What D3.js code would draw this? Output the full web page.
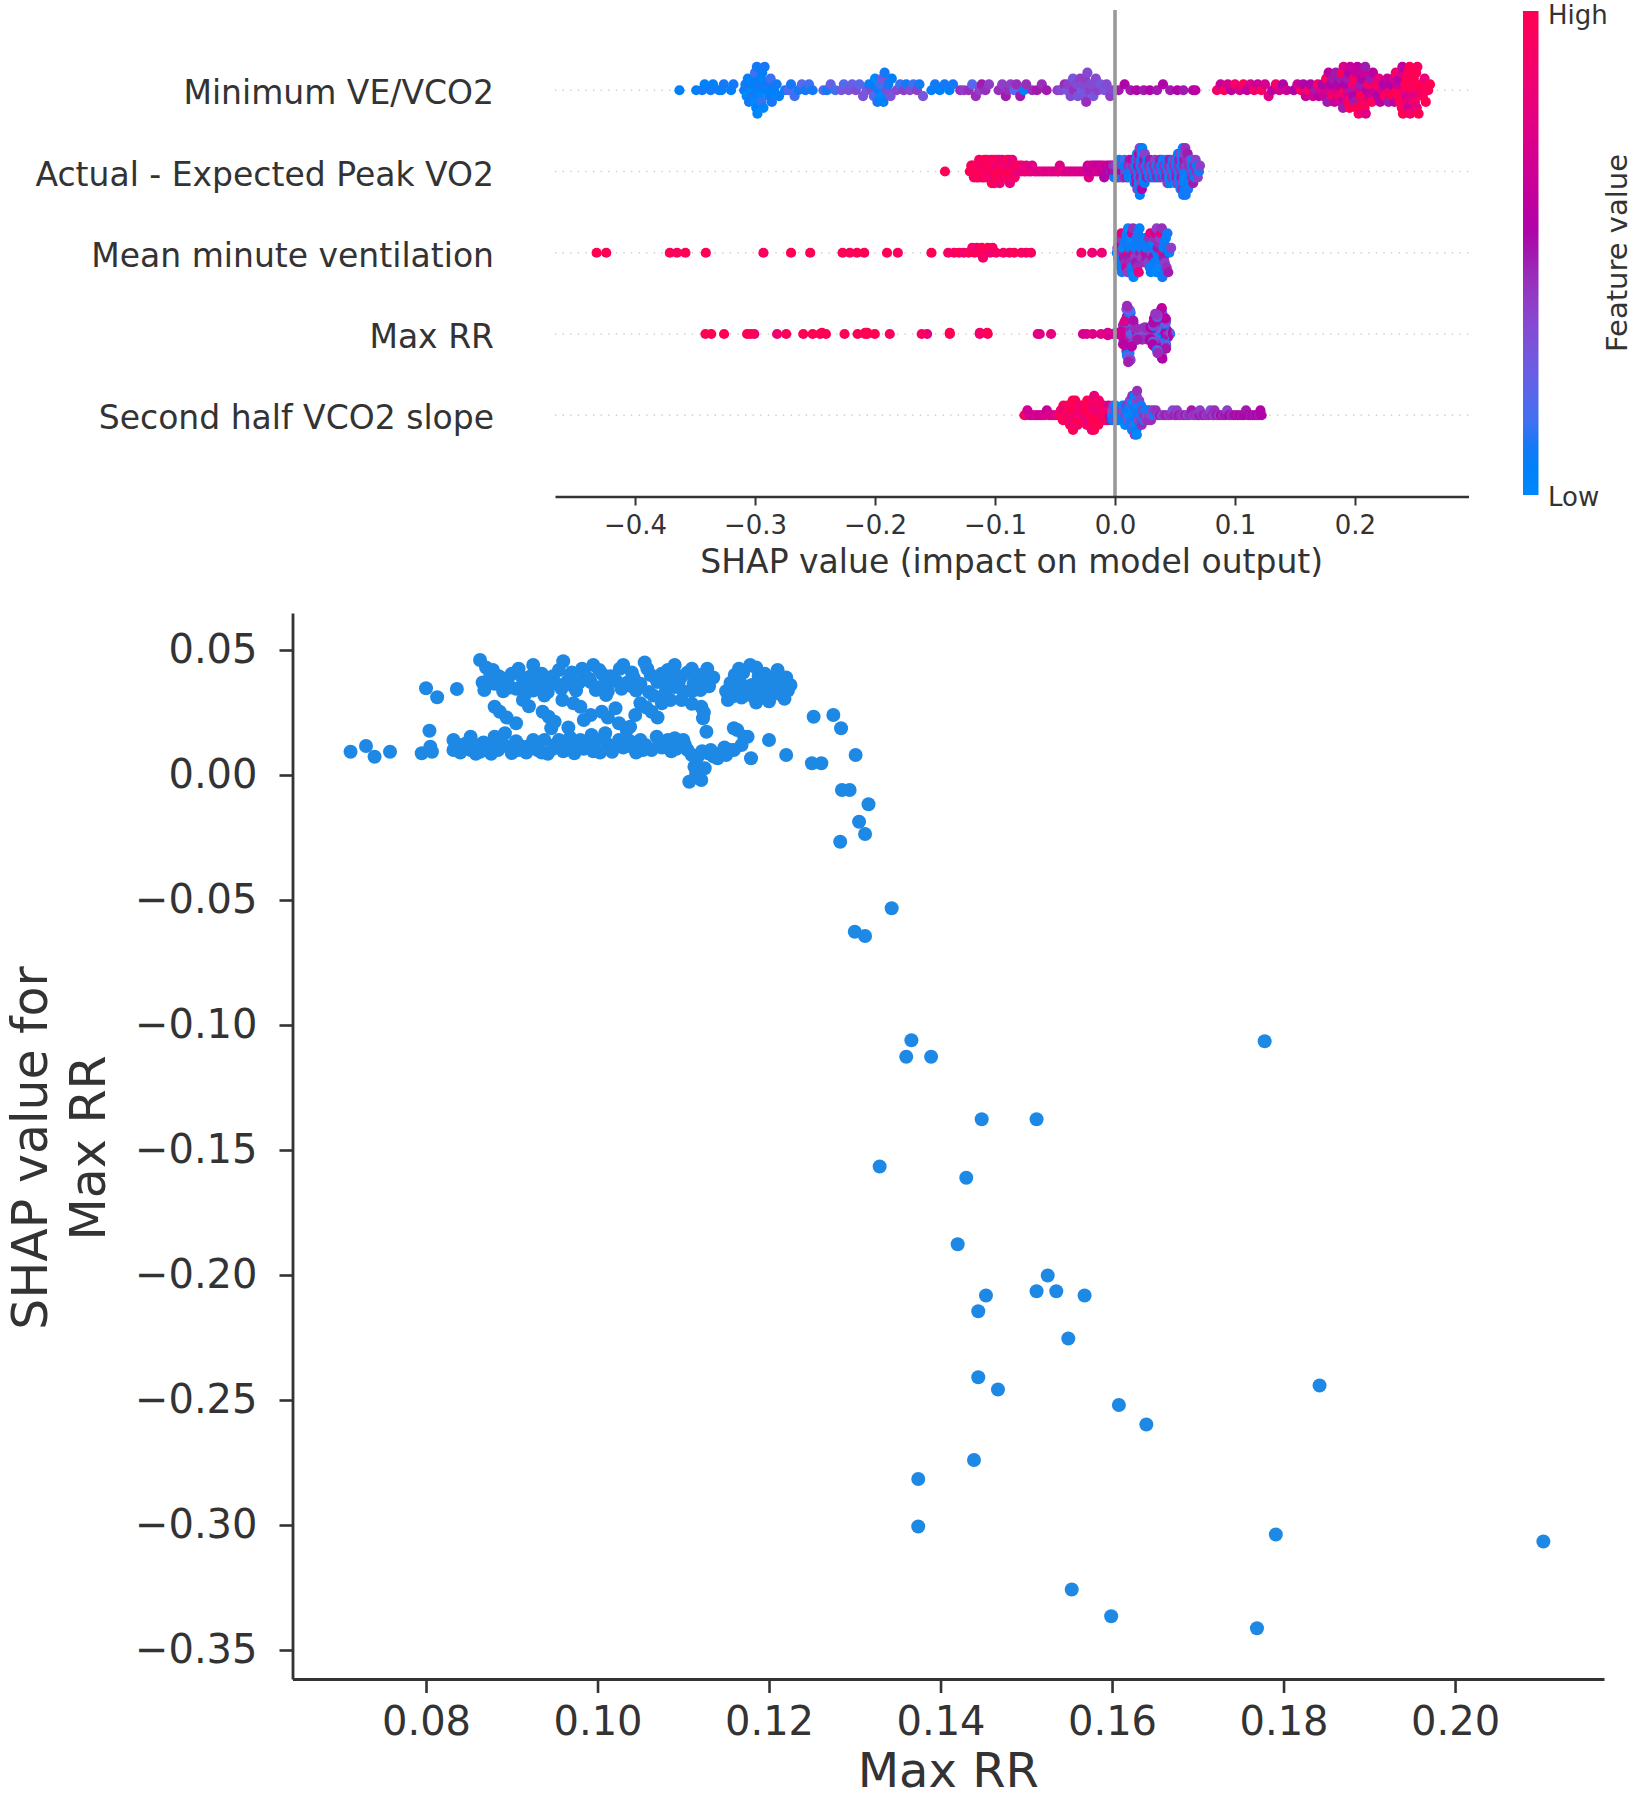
<!DOCTYPE html>
<html><head><meta charset="utf-8">
<script src="https://cdn.jsdelivr.net/npm/d3@7"></script>
<style>
html,body{margin:0;padding:0;background:#fff;}
svg{display:block;}
text{font-family:"DejaVu Sans",sans-serif;}
</style></head><body>
<svg id="chart" width="1637" height="1800"></svg>
<script>
// ---------- DATA ----------
// feature names, bottom row first (index = row position)
const featureNames = ["Second half VCO2 slope","Max RR","Mean minute ventilation","Actual - Expected Peak VO2","Minimum VE/VCO2"];
const summaryTicks = [-0.4,-0.3,-0.2,-0.1,0.0,0.1,0.2];
const depXTicks = [0.08,0.10,0.12,0.14,0.16,0.18,0.20];
const depYTicks = [0.05,0.00,-0.05,-0.10,-0.15,-0.20,-0.25,-0.30,-0.35];
const colorbarLabels = ["Low","High"];

// [SHAP value, normalized feature value 0..1]
const minVEVCO2 = [
[-.363,.05],
[-.349,.05],[-.344,.1],[-.342,.05],[-.337,.1],[-.335,.05],[-.330,.1],[-.328,.05],[-.326,.1],[-.320,.05],[-.318,.1],
[-.309,.05],[-.308,.1],[-.307,0],[-.306,.05],[-.305,.1],
[-.303,0],[-.3025,.05],[-.302,.1],[-.301,.05],[-.3005,0],[-.300,.15],[-.299,.05],[-.2985,.1],[-.298,0],
[-.297,.05],[-.2965,.1],[-.296,0],[-.295,.05],[-.2945,.15],[-.294,.05],[-.293,0],[-.292,.1],
[-.290,.05],[-.289,.1],[-.288,.05],[-.287,.15],[-.286,.1],
[-.284,.05],[-.282,.1],[-.280,.05],
[-.275,.1],[-.272,.2],[-.270,.1],[-.267,.15],[-.264,.1],[-.261,.2],[-.258,.1],[-.255,.15],[-.252,.1],
[-.243,.2],[-.240,.1],[-.237,.25],[-.233,.15],
[-.228,.3],[-.226,.2],[-.222,.3],[-.219,.25],[-.216,.35],[-.213,.2],[-.210,.3],
[-.207,.3],[-.205,.1],
[-.203,.35],[-.202,.05],[-.201,.2],[-.200,0],[-.198,.1],
[-.1965,.05],[-.196,.15],[-.195,0],[-.194,.3],[-.193,.05],[-.192,.1],
[-.190,.35],[-.189,.1],[-.187,.3],[-.186,.05],
[-.182,.35],[-.179,.15],[-.176,.4],[-.174,.1],[-.171,.35],[-.168,.15],[-.165,.4],[-.163,.1],[-.160,.3],
[-.153,.05],[-.150,.1],[-.146,.05],[-.142,.1],[-.138,.05],[-.135,.1],
[-.129,.45],[-.126,.4],[-.122,.45],[-.119,.2],[-.116,.45],[-.113,.4],[-.111,.5],[-.108,.45],[-.105,.4],
[-.097,.45],[-.094,.4],[-.091,.5],[-.089,.45],[-.087,.4],[-.084,.2],[-.082,.45],[-.079,.5],[-.076,.05],[-.074,.45],
[-.069,.45],[-.065,.5],[-.061,.45],[-.057,.5],
[-.048,.4],[-.045,.35],
[-.042,.45],[-.040,.3],
[-.039,.4],[-.037,.35],[-.035,.3],
[-.034,.45],[-.032,.35],[-.031,.3],[-.029,.4],
[-.0275,.25],[-.027,.35],[-.026,.3],[-.025,.4],[-.024,.45],[-.023,.35],
[-.021,.4],[-.020,.35],[-.018,.3],[-.016,.35],
[-.014,.4],[-.012,.3],
[-.009,.3],[-.007,.35],
[-.004,.4],[-.002,.35],
[.003,.5],[.008,.55],[.013,.5],[.018,.55],[.024,.5],[.029,.55],[.035,.5],[.040,.55],[.046,.5],[.052,.55],[.057,.5],
[.065,.55],[.067,.6],
[.085,.9],[.088,.65],[.091,.95],[.094,.7],[.097,.6],[.100,.9],[.104,.7],[.107,.95],[.110,.6],[.113,.7],[.116,.9],[.119,.65],[.122,.95],[.125,.7],[.128,.75],[.131,.6],[.134,.9],[.137,.7],[.140,.55],[.143,.65],
[.149,.55],[.152,.65],
[.155,.9],[.157,.55],[.159,.65],
[.161,.95],[.163,.55],[.165,.7],
[.167,.5],[.169,.9],[.170,.6],[.172,.75],
[.173,.55],[.174,.65],[.176,.95],[.177,.5],[.178,.6],
[.179,.75],[.180,.55],[.181,.9],[.182,.5],[.183,.65],[.184,.5],
[.185,.7],[.186,.55],[.187,.9],[.188,.5],[.189,.65],[.189,1],[.190,.5],[.1905,.75],
[.1915,.95],[.192,.55],[.193,.7],[.1935,.5],[.194,.9],[.195,.55],[.1955,1],[.196,.65],[.197,.5],
[.198,.8],[.1985,.55],[.199,.95],[.200,.5],[.201,.65],[.2015,1],[.202,.6],[.203,.9],
[.204,.7],[.2045,.5],[.205,1],[.206,.55],[.2065,.9],[.207,.65],[.208,1],[.2085,.5],[.209,.75],
[.210,.55],[.211,.9],[.212,.65],[.213,.5],[.214,.95],[.215,.6],
[.217,.65],[.218,.9],[.219,.55],[.220,.8],[.221,.6],
[.223,.75],[.224,.55],[.225,.95],[.227,.65],[.228,.5],
[.229,.9],[.230,.55],[.231,1],[.232,.7],[.233,.6],[.234,.9],
[.235,1],[.2355,.65],[.236,.95],[.237,.55],[.2375,1],[.238,.75],[.239,.95],[.2395,.6],[.240,1],
[.2415,.9],[.242,1],[.2425,.7],[.243,1],[.2435,.8],[.244,.95],[.245,.65],[.2455,1],[.246,.9],[.247,1],
[.248,.95],[.2485,.75],[.249,1],[.250,.9],[.251,1],[.2515,.8],[.252,.95],[.253,1],
[.254,.9],[.255,1],[.2565,.95],[.258,.8],[.259,1],
[.261,.95],[.2625,1]
];

const peakVO2Diff = [
[-.1417,1],
[-.1210,1],[-.1198,.95],
[-.1190,1],[-.1185,.9],[-.1176,1],
[-.1168,.95],[-.1160,1],[-.1154,.85],
[-.1148,1],[-.1143,.95],[-.1137,1],[-.1132,.9],
[-.1127,1],[-.1119,.85],[-.1112,1],
[-.1106,.95],[-.1101,1],[-.1095,.9],[-.1089,1],
[-.1085,1],[-.1080,.85],[-.1075,.95],[-.1068,1],
[-.1064,.9],[-.1058,1],[-.1050,.8],
[-.1044,1],[-.1040,.95],[-.1036,1],[-.1031,.85],[-.1026,1],
[-.1023,.9],[-.1019,1],[-.1014,.8],[-.1008,1],[-.1004,.95],
[-.0999,1],[-.0995,.85],[-.0989,1],[-.0983,.9],
[-.0980,1],[-.0976,.8],[-.0971,.95],[-.0966,1],[-.0961,.85],
[-.0958,1],[-.0953,.9],[-.0946,1],[-.0941,.8],
[-.0937,.95],[-.0931,1],[-.0922,.85],
[-.0915,1],[-.0911,.8],[-.0905,.95],[-.0898,.9],
[-.0894,1],[-.0890,.85],[-.0885,.9],[-.0880,1],[-.0876,.8],
[-.0872,1],[-.0867,.85],[-.0861,.95],[-.0856,.8],
[-.0851,1],[-.0844,.85],[-.0836,.9],
[-.0828,.85],[-.0820,1],
[-.0808,.85],[-.0796,.9],
[-.0786,.8],[-.0775,.85],
[-.0760,.8],
[-.0745,.85],[-.0738,.8],
[-.0718,.85],
[-.0700,.8],[-.0690,.75],
[-.0668,.8],[-.0648,.75],[-.0627,.8],[-.0605,.75],[-.0586,.8],[-.0563,.7],[-.0541,.75],[-.0522,.8],[-.0500,.75],[-.0478,.7],[-.0470,.8],[-.0460,.75],[-.0440,.8],[-.0418,.75],[-.0397,.7],[-.0376,.75],[-.0355,.7],[-.0333,.75],[-.0312,.7],[-.0291,.75],[-.0270,.7],[-.0250,.75],
[-.0235,.7],[-.0228,.65],[-.0218,.75],[-.0210,.6],[-.0198,.7],[-.0190,.65],[-.0178,.7],[-.0170,.6],[-.0158,.65],[-.0150,.75],[-.0138,.6],[-.0130,.7],[-.0118,.65],[-.0110,.6],[-.0098,.7],[-.0090,.55],[-.0078,.65],[-.0070,.6],[-.0058,.55],[-.0050,.65],[-.0038,.5],[-.0030,.6],
[-.0022,.55],[-.0015,.45],[-.0008,.1],
[.0000,.5],[.0006,.4],[.0014,.05],
[.0020,.5],[.0025,.1],[.0031,.45],[.0036,.05],
[.0042,.5],[.0049,.4],[.0057,.1],
[.0062,.55],[.0068,.05],[.0073,.45],[.0080,.15],
[.0084,.4],[.0091,.05],[.0099,.5],
[.0104,.1],[.0109,.45],[.0115,0],[.0122,.5],
[.0125,.05],[.0131,.4],[.0137,.1],[.0143,.6],
[.0147,.1],[.0151,.45],[.0155,0],[.0160,.5],[.0165,.05],
[.0168,.45],[.0171,.05],[.0174,.5],[.0177,.1],[.0180,.65],[.0183,0],[.0186,.4],
[.0189,.05],[.0191,.5],[.0193,.1],[.0195,.45],[.0198,0],[.0200,.6],[.0202,.1],[.0205,.4],[.0207,.05],
[.0210,.45],[.0212,.05],[.0215,.5],[.0217,.1],[.0219,.4],[.0222,0],[.0224,.55],[.0227,.05],
[.0231,.1],[.0234,.45],[.0238,0],[.0242,.5],[.0246,.05],[.0249,.4],
[.0254,.45],[.0259,.1],[.0265,.5],[.0270,.05],
[.0275,.05],[.0280,.45],[.0286,.1],[.0291,.5],
[.0296,.4],[.0302,.1],[.0309,.45],
[.0316,.1],[.0321,.45],[.0328,.05],[.0334,.4],
[.0339,.45],[.0345,.1],[.0352,.5],
[.0359,.1],[.0364,.45],[.0371,.05],[.0376,.5],
[.0380,.4],[.0385,.05],[.0391,.45],[.0397,.1],
[.0402,.05],[.0409,.45],[.0416,.1],
[.0423,.45],[.0426,.05],[.0429,.5],[.0433,.1],[.0438,.4],
[.0444,.1],[.0447,.45],[.0451,0],[.0455,.5],[.0460,.05],
[.0465,.4],[.0470,.1],[.0476,.45],[.0482,.05],
[.0486,.05],[.0489,.45],[.0492,.1],[.0497,.4],[.0503,0],
[.0507,.45],[.0510,.05],[.0513,.5],[.0517,.1],[.0521,.4],[.0525,.05],
[.0529,.1],[.0531,.45],[.0533,0],[.0536,.5],[.0539,.05],[.0542,.4],[.0546,.1],
[.0550,.45],[.0552,.05],[.0554,.5],[.0556,.1],[.0558,.4],[.0560,0],[.0562,.45],[.0565,.05],[.0568,.1],
[.0571,.05],[.0573,.45],[.0575,.1],[.0577,.5],[.0579,0],[.0581,.4],[.0583,.05],[.0586,.45],[.0589,.1],
[.0592,.1],[.0594,.4],[.0597,0],[.0600,.45],[.0603,.05],[.0606,.5],[.0609,.1],
[.0614,.05],[.0617,.45],[.0620,.1],[.0624,.4],[.0630,0],
[.0635,.4],[.0638,.1],[.0642,.45],[.0646,0],[.0651,.5],
[.0656,.1],[.0660,.45],[.0665,.05],[.0672,.4],
[.0677,.45],[.0683,.05],[.0690,.4],
[.0700,.1],[.0708,.4]
];

const meanMinuteVent = [
[-.432,1],[-.424,1],[-.371,1],[-.365,.95],[-.358,1],[-.341,1],[-.293,.95],[-.270,1],[-.254,1],[-.227,1],[-.221,.95],[-.215,1],[-.209,1],[-.190,1],[-.181,.95],[-.153,1],
[-.139,.95],[-.134,.9],[-.130,1],[-.126,.85],[-.122,.95],[-.119,.9],[-.117,1],[-.115,.85],[-.113,.95],[-.111,1],[-.110,.9],[-.108,.95],[-.106,1],[-.104,.85],[-.102,.95],[-.099,.9],
[-.093,.95],[-.088,.9],[-.084,1],[-.078,.95],[-.074,.9],[-.070,.95],
[-.028,.9],[-.019,.85],[-.011,.85],
[.0015,.05],[.0020,.45],[.0026,.1],[.0031,.7],[.0036,.05],
[.0042,.4],[.0048,.05],[.0053,.8],[.0058,.1],[.0063,.45],[.0068,0],[.0074,.5],[.0080,.1],
[.0088,.45],[.0092,.05],[.0096,.75],[.0100,.1],[.0104,.4],[.0108,0],[.0112,.85],[.0116,.05],[.0120,.5],[.0124,.1],[.0128,.45],[.0132,0],
[.0138,.1],[.0142,.7],[.0146,.05],[.0150,.45],[.0154,0],[.0158,.8],[.0162,.1],[.0166,.4],[.0170,.05],[.0174,.5],[.0178,.1],
[.0186,.45],[.0192,.1],[.0198,.8],[.0204,.05],[.0210,.5],[.0216,.1],[.0222,.4],
[.0240,.1],[.0245,.45],[.0250,.05],[.0255,.75],[.0260,.1],[.0265,.5],[.0270,.05],[.0276,.4],
[.0284,.45],[.0289,.1],[.0294,.8],[.0299,.05],[.0304,.4],[.0309,.1],[.0314,.5],[.0319,0],
[.0327,.05],[.0331,.45],[.0335,.1],[.0339,.7],[.0343,0],[.0347,.4],[.0351,.1],[.0355,.5],[.0359,.05],[.0363,.45],
[.0371,.1],[.0375,.4],[.0379,0],[.0383,.75],[.0387,.05],[.0391,.45],[.0395,.1],[.0399,.85],[.0403,.05],[.0407,.5],[.0411,.1],[.0415,.4],
[.0424,.05],[.0430,.45],[.0437,.1],[.0444,.5],[.0452,.05],[.0468,.4]
];

const secondHalfVCO2 = [
[-.0755,1],[-.0745,.95],[-.0730,.7],[-.0712,.65],[-.0694,.7],[-.0676,.65],[-.0658,.75],[-.0640,.7],[-.0622,.65],[-.0604,.7],[-.0586,.75],[-.0568,.65],[-.0550,.7],[-.0532,.75],[-.0514,.7],[-.0496,.8],[-.0478,.75],[-.0462,.85],
[-.0452,.9],[-.0448,1],[-.0438,.85],[-.0434,1],[-.0430,.9],[-.0420,1],[-.0416,.8],[-.0412,1],
[-.0404,.9],[-.0401,1],[-.0398,.85],[-.0395,1],[-.0386,1],[-.0383,.8],[-.0380,1],[-.0377,.9],[-.0374,1],
[-.0368,.85],[-.0365,1],[-.0362,.9],[-.0359,1],[-.0356,.8],[-.0353,1],
[-.0350,1],[-.0347,.9],[-.0344,1],[-.0341,.85],[-.0338,1],[-.0335,.9],
[-.0331,1],[-.0328,.8],[-.0325,1],[-.0322,.9],[-.0319,1],
[-.0313,.9],[-.0310,1],[-.0307,.85],[-.0298,1],[-.0294,.9],[-.0290,.8],
[-.0280,.9],[-.0276,1],[-.0272,.85],
[-.0262,1],[-.0258,.9],[-.0254,1],[-.0250,.8],
[-.0244,1],[-.0241,.85],[-.0238,1],[-.0235,.9],[-.0232,1],
[-.0226,.9],[-.0223,1],[-.0220,.8],[-.0217,1],[-.0214,.9],[-.0211,1],
[-.0208,1],[-.0205,.85],[-.0202,1],[-.0199,.9],[-.0196,1],[-.0193,.8],[-.0191,1],
[-.0188,.9],[-.0185,1],[-.0183,.85],[-.0180,1],[-.0177,.9],[-.0175,1],[-.0173,.8],
[-.0170,1],[-.0167,.9],[-.0164,1],[-.0161,.85],[-.0158,1],[-.0155,.9],
[-.0152,1],[-.0149,.8],[-.0146,1],[-.0143,.9],[-.0140,1],
[-.0134,.9],[-.0130,1],[-.0126,.85],[-.0122,1],
[-.0116,1],[-.0112,.9],[-.0108,.8],
[-.0098,1],[-.0094,.85],[-.0090,.9],
[-.0080,1],[-.0076,.8],[-.0072,.9],
[-.0062,.85],[-.0058,1],[-.0054,.7],
[-.0044,.6],[-.0040,.9],[-.0036,.5],
[-.0026,.1],[-.0022,.3],[-.0018,.05],[-.0014,.4],
[-.0008,.05],[-.0004,.35],[.0000,.1],[.0004,0],
[.0010,.1],[.0014,.05],[.0018,.4],
[.0028,.05],[.0032,.3],[.0036,.1],
[.0046,.05],[.0050,.4],[.0054,.1],
[.0064,0],[.0068,.1],[.0072,.35],[.0076,.05],
[.0082,.1],[.0085,0],[.0088,.4],[.0091,.05],
[.0100,.05],[.0103,.45],[.0106,0],[.0109,.1],[.0112,.3],
[.0118,.05],[.0121,.1],[.0124,.4],[.0127,0],[.0130,.05],[.0133,.1],
[.0136,.35],[.0138,.05],[.0140,0],[.0142,.1],[.0144,.45],[.0146,.05],[.0148,0],[.0150,.1],
[.0154,.05],[.0156,.3],[.0158,0],[.0160,.1],[.0162,.05],[.0164,.4],[.0166,0],[.0168,.1],[.0170,.05],
[.0172,.1],[.0174,0],[.0176,.35],[.0178,.05],[.0180,.1],[.0182,0],[.0184,.45],[.0186,.05],
[.0190,.1],[.0193,.35],[.0196,0],[.0199,.05],[.0202,.4],[.0205,.1],
[.0210,.05],[.0214,.4],[.0218,.1],[.0222,.45],
[.0228,.1],[.0233,.4],[.0238,.05],
[.0246,.45],[.0251,.1],[.0256,.4],
[.0265,.35],[.0270,.1],[.0275,.45],
[.0283,.4],[.0290,.1],[.0300,.45],[.0308,.35],[.0318,.4],[.0326,.1],
[.0340,.45],[.0358,.4],[.0375,.5],[.0392,.35],[.0410,.45],[.0428,.5],[.0445,.4],[.0462,.45],[.0480,.35],[.0498,.5],[.0510,.45],[.0516,.4],[.0533,.5],[.0550,.45],[.0568,.4],[.0585,.5],[.0603,.35],[.0620,.45],[.0638,.5],[.0655,.4],[.0672,.45],[.0690,.35],[.0700,.5],[.0708,.4],[.0725,.45],[.0743,.5],[.0760,.4],[.0778,.45],[.0795,.35],[.0812,.5],[.0820,.4],[.0830,.45],[.0848,.5],[.0865,.4],[.0883,.55],[.0900,.45],[.0918,.5],[.0935,.4],[.0952,.55],[.0970,.45],[.0988,.5],[.1005,.55],[.1022,.5],[.1040,.55],[.1058,.5],[.1075,.55],[.1092,.5],[.1110,.55],[.1128,.5],[.1145,.55],[.1162,.5],[.1180,.55],[.1198,.5],[.1212,.55],[.1222,.55]
];

// Dependence plot: [Max RR value, SHAP value for Max RR]
const maxRRPoints = [
[0.0712,0.0093],[0.0730,0.0116],[0.0740,0.0073],[0.0758,0.0093],
[0.0795,0.0087],[0.0800,0.0347],[0.0804,0.0177],[0.0807,0.0093],[0.0805,0.0113],[0.0813,0.0311],[0.0836,0.0344],
[0.0832,0.0100],[0.0832,0.0140],[0.0840,0.0090],[0.0846,0.0125],[0.0852,0.0153],[0.0852,0.0100],[0.0858,0.0085],[0.0863,0.0093],[0.0867,0.0130],[0.0873,0.0113],[0.0876,0.0085],[0.0880,0.0153],[0.0884,0.0100],[0.0892,0.0167],[0.0896,0.0113],[0.0900,0.0088],[0.0905,0.0135],[0.0913,0.0113],[0.0917,0.0090],[0.0925,0.0140],[0.0930,0.0100],[0.0938,0.0140],[0.0942,0.0085],[0.0946,0.0187],[0.0950,0.0120],[0.0955,0.0140],[0.0960,0.0095],[0.0963,0.0113],[0.0968,0.0150],[0.0973,0.0087],[0.0980,0.0140],[0.0984,0.0105],[0.0988,0.0113],[0.0993,0.0160],[0.0998,0.0140],[0.1003,0.0090],[0.1009,0.0167],[0.1013,0.0120],[0.1017,0.0093],[0.1025,0.0140],[0.1030,0.0110],[0.1034,0.0180],[0.1040,0.0113],[0.1045,0.0090],[0.1050,0.0140],[0.1056,0.0120],[0.1063,0.0100],[0.1069,0.0153],[0.1075,0.0110],[0.1082,0.0140],[0.1086,0.0095],[0.1090,0.0147],[0.1095,0.0120],[0.1100,0.0140],[0.1105,0.0100],[0.1110,0.0080],[0.1117,0.0073],[0.1122,0.0095],[0.1129,0.0087],[0.1135,0.0075],[0.1140,0.0067],[0.1145,0.0090],[0.1150,0.0080],[0.1155,0.0100],[0.1159,0.0100],[0.1163,0.0180],[0.1168,0.0120],[0.1175,0.0153],[0.1179,0.0067],
[0.0838,0.0120],[0.0858,0.0120],[0.0870,0.0100],[0.0888,0.0130],[0.0908,0.0100],[0.0922,0.0120],[0.0935,0.0090],[0.0948,0.0105],[0.0958,0.0125],[0.0978,0.0120],[0.0995,0.0095],[0.1008,0.0140],[0.1020,0.0110],[0.1038,0.0135],[0.1053,0.0100],[0.1072,0.0130],[0.1092,0.0105],[0.1102,0.0120],[0.1132,0.0100],[0.1148,0.0110],
[0.1113,0.0033],[0.1107,-0.0027],[0.1121,-0.0020],[0.1125,0.0027],[0.1115,0.0005],
[0.1200,0.0140],[0.1220,0.0080],[0.1250,0.0047],[0.1261,0.0047],[0.1252,0.0233],[0.1275,0.0240],[0.1284,0.0187],[0.1301,0.0080],[0.1285,-0.0060],[0.1294,-0.0060],[0.1316,-0.0117],[0.1305,-0.0187],[0.1312,-0.0236],[0.1283,-0.0267],[0.1343,-0.0533],[0.1300,-0.0627],[0.1312,-0.0644],
[0.0886,0.0253],[0.0880,0.0273],[0.0894,0.0230],[0.0905,0.0207],[0.0913,0.0300],[0.0920,0.0275],[0.0936,0.0253],[0.0943,0.0233],[0.0950,0.0213],[0.0959,0.0300],[0.0966,0.0190],[0.0972,0.0287],[0.0980,0.0273],[0.0984,0.0220],[0.0992,0.0240],[0.1005,0.0253],[0.1012,0.0230],[0.1021,0.0267],[0.1025,0.0207],[0.1038,0.0193],[0.1044,0.0240],[0.1050,0.0287],[0.1057,0.0270],[0.1063,0.0253],[0.1070,0.0230],[0.1075,0.0287],[0.1085,0.0300],[0.1098,0.0300],[0.1110,0.0285],[0.1121,0.0273],[0.1123,0.0227],[0.1127,0.0173],[0.1124,0.0250],[0.1159,0.0187],[0.1171,0.0153],
[0.0863,0.0460],[0.0870,0.0430],[0.0925,0.0440],[0.0960,0.0455],[0.0995,0.0440],[0.1030,0.0440],[0.1055,0.0450],[0.1090,0.0440],[0.1128,0.0425],[0.1178,0.0440],[0.1185,0.0430],
[0.0875,0.0400],[0.0885,0.0395],[0.0900,0.0405],[0.0912,0.0390],[0.0935,0.0405],[0.0948,0.0395],[0.0970,0.0410],[0.0985,0.0400],[0.1005,0.0405],[0.1015,0.0395],[0.1040,0.0410],[0.1062,0.0400],[0.1075,0.0405],[0.1098,0.0395],[0.1105,0.0410],[0.1118,0.0400],[0.1135,0.0390],[0.1160,0.0400],[0.1170,0.0410],[0.1195,0.0405],[0.1208,0.0385],
[0.0866,0.0370],[0.0880,0.0365],[0.0895,0.0375],[0.0918,0.0368],[0.0930,0.0372],[0.0952,0.0365],[0.0965,0.0375],[0.0978,0.0368],[0.0992,0.0372],[0.1010,0.0365],[0.1022,0.0375],[0.1035,0.0370],[0.1050,0.0365],[0.1070,0.0372],[0.1085,0.0368],[0.1095,0.0375],[0.1112,0.0365],[0.1125,0.0372],[0.1155,0.0368],[0.1165,0.0375],[0.1180,0.0360],[0.1198,0.0370],[0.1215,0.0365],[0.1225,0.0360],
[0.0868,0.0340],[0.0890,0.0335],[0.0905,0.0345],[0.0925,0.0338],[0.0942,0.0332],[0.0958,0.0345],[0.0975,0.0338],[0.0998,0.0340],[0.1012,0.0335],[0.1028,0.0345],[0.1045,0.0338],[0.1060,0.0332],[0.1080,0.0340],[0.1100,0.0335],[0.1120,0.0340],[0.1150,0.0335],[0.1162,0.0345],[0.1175,0.0338],[0.1190,0.0330],[0.1205,0.0340],[0.1222,0.0338],
[0.1152,0.0300],[0.1168,0.0310],[0.1185,0.0290],[0.1200,0.0295],[0.1218,0.0305],[0.0915,0.0320],[0.0938,0.0318],[0.1078,0.0322],[0.1010,0.0320],[0.1065,0.0318],
[0.0878,0.0420],[0.0893,0.0385],[0.0908,0.0425],[0.0922,0.0395],[0.0940,0.0378],[0.0955,0.0420],[0.0968,0.0390],[0.0982,0.0425],[0.0990,0.0385],[0.1002,0.0420],[0.1018,0.0380],[0.1026,0.0425],[0.1042,0.0390],[0.1058,0.0425],[0.1068,0.0385],[0.1082,0.0420],[0.1092,0.0390],[0.1110,0.0425],[0.1122,0.0385],[0.1165,0.0425],[0.1172,0.0355],[0.1188,0.0395],[0.1192,0.0350],[0.1210,0.0420],[0.1220,0.0390],[0.1158,0.0315],[0.1178,0.0320],[0.1195,0.0315],[0.1212,0.0325],[0.0898,0.0350],[0.0935,0.0352],[0.0972,0.0355],[0.1003,0.0352],[0.1040,0.0355],[0.1090,0.0352],[0.1130,0.0355],[0.1110,0.0335],
[0.1366,-0.1061],[0.1360,-0.1127],[0.1389,-0.1127],[0.1778,-0.1065],[0.1448,-0.1377],[0.1512,-0.1377],[0.1329,-0.1566],[0.1430,-0.1611],[0.1420,-0.1877],[0.1525,-0.2002],[0.1512,-0.2065],[0.1535,-0.2065],[0.1568,-0.2082],[0.1453,-0.2082],[0.1444,-0.2145],[0.1549,-0.2254],[0.1444,-0.2409],[0.1467,-0.2458],[0.1842,-0.2442],[0.1608,-0.2520],[0.1640,-0.2598],[0.1439,-0.2740],[0.1374,-0.2816],[0.1374,-0.3006],[0.1791,-0.3038],[0.2103,-0.3066],[0.1553,-0.3258],[0.1599,-0.3365],[0.1769,-0.3413]
];

// ---------- HELPERS ----------
function redBlue(t){
  t = Math.max(0, Math.min(1, t));
  const L = t < 0.5 ? 54 - 28*t : 40 + 28*(t-0.5);
  const C = 70 + 20*t;
  const H = 266.93 + 113.39*t;
  return d3.hcl(H, C, L).formatHex();
}
function swarmOffsets(shaps){
  const n = shaps.length, lo = d3.min(shaps), hi = d3.max(shaps);
  const q = shaps.map(s => Math.round(100*(s-lo)/(hi-lo+1e-8)));
  const order = d3.range(n).sort((a,b) => (q[a]-q[b]) || (a-b));
  const ys = new Array(n).fill(0);
  let layer = 0, last = -1;
  order.forEach(i => {
    if (q[i] !== last) layer = 0;
    ys[i] = Math.ceil(layer/2) * ((layer%2)*2-1);
    layer++; last = q[i];
  });
  const m = d3.max(ys, y => y+1);
  return ys.map(y => y*0.9*(0.4/m));
}

const svg = d3.select("#chart");
const ink = "#333333";

// ---------- SUMMARY (BEESWARM) ----------
const sx = d3.scaleLinear().domain([-0.4667, 0.2946]).range([555, 1468.5]);
const sy = d3.scaleLinear().domain([-1, 5]).range([496.5, 9]);

const rrSorted = maxRRPoints.map(d => d[0]).sort(d3.ascending);
const rrMin = d3.quantile(rrSorted, 0.05), rrMax = d3.quantile(rrSorted, 0.95);
const maxRRRow = maxRRPoints.map(d => [d[1], (d[0]-rrMin)/(rrMax-rrMin)]);

const rows = [secondHalfVCO2, maxRRRow, meanMinuteVent, peakVO2Diff, minVEVCO2];

const gTop = svg.append("g");
gTop.selectAll("line.guide").data(rows).join("line")
  .attr("x1", sx.range()[0]).attr("x2", sx.range()[1])
  .attr("y1", (d,i) => sy(i)).attr("y2", (d,i) => sy(i))
  .attr("stroke", "#cccccc").attr("stroke-width", 1.3).attr("stroke-dasharray", "1.3 6.3");

rows.forEach((pts, i) => {
  const offs = swarmOffsets(pts.map(p => p[0]));
  gTop.append("g").selectAll("circle").data(pts).join("circle")
    .attr("cx", d => sx(d[0]))
    .attr("cy", (d,k) => sy(i + offs[k]))
    .attr("r", 5.1)
    .attr("fill", d => redBlue(d[1]));
});

gTop.append("line")
  .attr("x1", sx(0)).attr("x2", sx(0)).attr("y1", sy(5)+1).attr("y2", sy(-1))
  .attr("stroke", "#999999").attr("stroke-width", 3.6);

gTop.selectAll("text.feat").data(featureNames).join("text")
  .attr("x", 494).attr("y", (d,i) => sy(i) + 14)
  .attr("text-anchor", "end").attr("font-size", 33).attr("fill", ink)
  .text(d => d);

const axTop = gTop.append("g").attr("transform", `translate(0,${sy(-1)})`)
  .call(d3.axisBottom(sx).tickValues(summaryTicks).tickFormat(d3.format(".1f")).tickSize(9).tickSizeOuter(0).tickPadding(10));
axTop.select(".domain").attr("stroke", ink).attr("stroke-width", 2.4);
axTop.selectAll(".tick line").attr("stroke", ink).attr("stroke-width", 2);
axTop.selectAll(".tick text").attr("font-size", 26).attr("fill", ink).attr("font-family", "DejaVu Sans");

gTop.append("text").attr("x", (sx.range()[0]+sx.range()[1])/2).attr("y", 573)
  .attr("text-anchor", "middle").attr("font-size", 33).attr("fill", ink)
  .text("SHAP value (impact on model output)");

const defs = svg.append("defs");
const grad = defs.append("linearGradient").attr("id", "cbar")
  .attr("x1", 0).attr("y1", 1).attr("x2", 0).attr("y2", 0);
d3.range(0, 1.0001, 0.05).forEach(t => grad.append("stop").attr("offset", t).attr("stop-color", redBlue(t)));
gTop.append("rect").attr("x", 1523).attr("y", 11).attr("width", 15.5).attr("height", 484).attr("fill", "url(#cbar)");
gTop.append("text").attr("x", 1548).attr("y", 24).attr("font-size", 26).attr("fill", ink).text(colorbarLabels[1]);
gTop.append("text").attr("x", 1548).attr("y", 506).attr("font-size", 26).attr("fill", ink).text(colorbarLabels[0]);
gTop.append("text").attr("transform", "translate(1627,253) rotate(-90)")
  .attr("text-anchor", "middle").attr("font-size", 29).attr("fill", ink).text("Feature value");

// ---------- DEPENDENCE PLOT ----------
const dx = d3.scaleLinear().domain([0.06443, 0.21737]).range([292.5, 1604]);
const dy = d3.scaleLinear().domain([-0.3616, 0.0648]).range([1679, 613]);
const gBot = svg.append("g");

gBot.append("g").selectAll("circle").data(maxRRPoints).join("circle")
  .attr("cx", d => dx(d[0])).attr("cy", d => dy(d[1])).attr("r", 7).attr("fill", "#1E88E5");

const axL = gBot.append("g").attr("transform", `translate(${dx.range()[0]},0)`)
  .call(d3.axisLeft(dy).tickValues(depYTicks).tickFormat(d3.format(".2f")).tickSize(13).tickSizeOuter(0).tickPadding(22));
const axB = gBot.append("g").attr("transform", `translate(0,${dy.range()[0]})`)
  .call(d3.axisBottom(dx).tickValues(depXTicks).tickFormat(d3.format(".2f")).tickSize(14).tickSizeOuter(0).tickPadding(14));
[axL, axB].forEach(a => {
  a.select(".domain").attr("stroke", ink).attr("stroke-width", 2.8);
  a.selectAll(".tick line").attr("stroke", ink).attr("stroke-width", 2.6);
  a.selectAll(".tick text").attr("font-size", 40).attr("fill", ink).attr("font-family", "DejaVu Sans");
});

gBot.append("text").attr("x", (dx.range()[0]+dx.range()[1])/2).attr("y", 1787)
  .attr("text-anchor", "middle").attr("font-size", 48).attr("fill", ink).text("Max RR");
gBot.append("text").attr("transform", "translate(47,1148) rotate(-90)")
  .attr("text-anchor", "middle").attr("font-size", 49).attr("fill", ink).text("SHAP value for");
gBot.append("text").attr("transform", "translate(105,1148) rotate(-90)")
  .attr("text-anchor", "middle").attr("font-size", 49).attr("fill", ink).text("Max RR");
</script>
</body></html>
